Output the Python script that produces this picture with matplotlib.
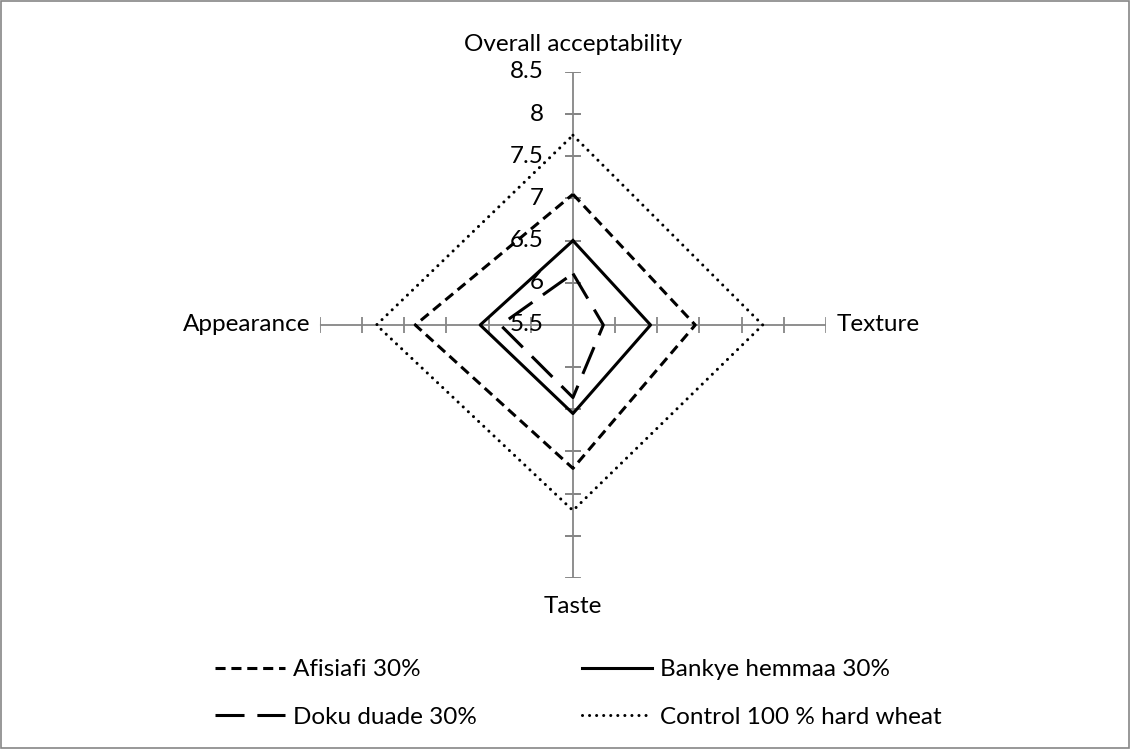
import numpy as np
import matplotlib
matplotlib.use("Agg")
import matplotlib.pyplot as plt
from matplotlib.patches import Rectangle

plt.rcParams['font.family'] = ['Lato', 'DejaVu Sans']

categories = ["Overall acceptability", "Texture", "Taste", "Appearance"]
series_names = ["Afisiafi 30%", "Bankye hemmaa 30%", "Doku duade 30%", "Control 100 % hard wheat"]
afisiafi = [7.05, 6.95, 7.2, 7.37]
bankye = [6.5, 6.42, 6.55, 6.6]
doku = [6.11, 5.86, 6.36, 6.36]
control = [7.75, 7.75, 7.7, 7.83]
r_ticks = [5.5, 6, 6.5, 7, 7.5, 8, 8.5]

FS = 17.5

fig = plt.figure(figsize=(11.31, 7.49), dpi=100)
fig.patches.append(Rectangle((0.0005, 0.0007), 0.998, 0.998, transform=fig.transFigure,
                             fill=False, edgecolor='#868686', lw=1.2))

ax = fig.add_axes([0.2829, 0.2283, 0.4474, 0.6756], projection='polar')
ax.set_theta_zero_location('N')
ax.set_theta_direction(-1)
ax.set_ylim(r_ticks[0], r_ticks[-1])
ax.spines['polar'].set_visible(False)
ax.grid(False)
ax.set_xticks([])
ax.set_yticks([])
ax.patch.set_alpha(0)

angles = np.arange(len(categories)) * 2 * np.pi / len(categories)

# axis spokes with tick marks
axis_col = '#868686'
for i, a in enumerate(angles):
    ax.plot([a, a], [r_ticks[0], r_ticks[-1]], color=axis_col, lw=1.3, zorder=1)
    mk = '_' if i % 2 == 0 else '|'
    ax.plot([a] * (len(r_ticks) - 1), r_ticks[1:], linestyle='none', marker=mk,
            markersize=11.5, markeredgewidth=1.3, color=axis_col, zorder=1)

# radial labels along the top axis
for r in r_ticks:
    ax.annotate(f"{r:g}", xy=(0, r), xytext=(-21, 0), textcoords='offset points',
                ha='right', va='center', fontsize=FS, color='black', zorder=5)

closed = np.concatenate([angles, angles[:1]])
def close(v):
    return list(v) + [v[0]]

LW = 2.2
l1, = ax.plot(closed, close(afisiafi), color='black', lw=LW, linestyle=(0, (3.3, 1.9)),
              label=series_names[0], zorder=3)
l2, = ax.plot(closed, close(bankye), color='black', lw=LW, linestyle='-',
              label=series_names[1], zorder=3)
l3, = ax.plot(closed, close(doku), color='black', lw=LW, linestyle=(0, (9.5, 4.2)),
              label=series_names[2], zorder=3)
l4, = ax.plot(closed, close(control), color='black', lw=LW, linestyle=(0, (0.01, 2.3)),
              dash_capstyle='round', label=series_names[3], zorder=3)

# category labels
offsets = [(0, 20, 'center', 'center'), (8, 0, 'left', 'center'),
           (0, -20.5, 'center', 'center'), (-7.2, 0, 'right', 'center')]
for a, cat, (dx, dy, ha, va) in zip(angles, categories, offsets):
    ax.annotate(cat, xy=(a, r_ticks[-1]), xytext=(dx, dy), textcoords='offset points',
                ha=ha, va=va, fontsize=FS, annotation_clip=False)

leg_kw = dict(loc='center left', frameon=False, fontsize=FS, handlelength=2.9,
              handletextpad=0.3, labelspacing=1.08, borderpad=0, borderaxespad=0)
fig.legend(handles=[l1, l3], bbox_to_anchor=(0.1901, 0.0741), **leg_kw)
fig.legend(handles=[l2, l4], bbox_to_anchor=(0.5146, 0.0741), **leg_kw)

fig.savefig('out.png', dpi=100)
